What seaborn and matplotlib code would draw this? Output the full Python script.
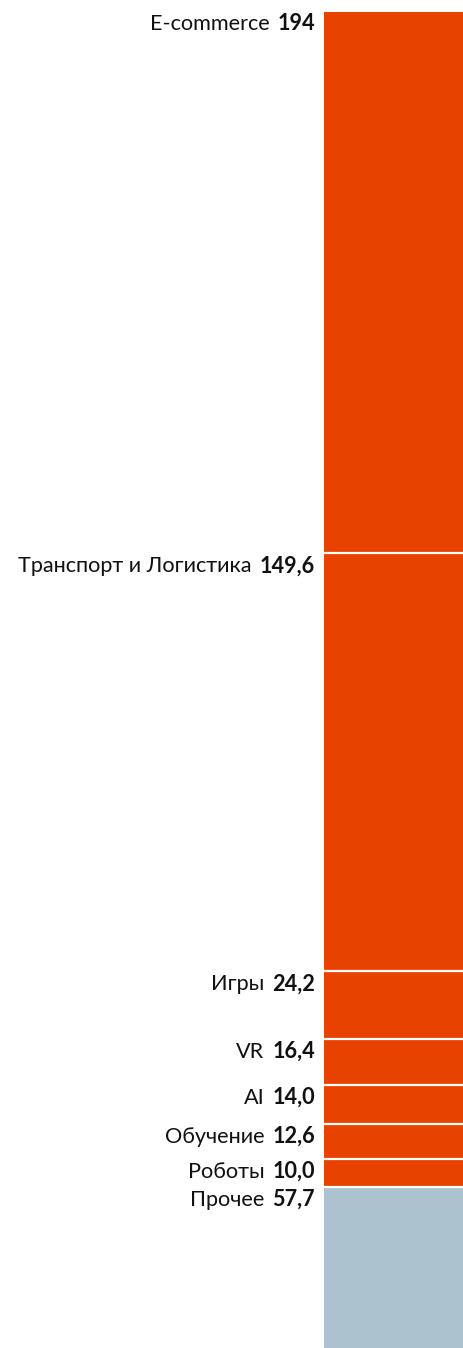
import matplotlib
matplotlib.use("Agg")
import matplotlib.pyplot as plt
import seaborn as sns
import numpy as np

# Market segments, stacked top to bottom
categories = ["E-commerce", "Транспорт и Логистика", "Игры", "VR", "AI",
              "Обучение", "Роботы", "Прочее"]
values = [194, 149.6, 24.2, 16.4, 14.0, 12.6, 10.0, 57.7]
value_labels = ["194", "149,6", "24,2", "16,4", "14,0", "12,6", "10,0", "57,7"]
colors = ["#E84200"] * 7 + ["#ADC2CF"]

sns.set_theme(style="white")
plt.rcParams["font.family"] = ["Lato", "DejaVu Sans"]

fig = plt.figure(figsize=(4.64, 13.48), dpi=100)
ax = fig.add_axes([324 / 464, 0, 140 / 464, (1348 - 11.5) / 1348])

bottoms = np.concatenate([[0], np.cumsum(values)[:-1]])
total = float(np.sum(values))

for cat, val, bot, col in zip(categories, values, bottoms, colors):
    sns.barplot(x=[0], y=[val], bottom=bot, color=col, width=1.0,
                linewidth=0, ax=ax, saturation=1)

# white separators between stacked segments
for bot in bottoms[1:]:
    ax.axhline(bot, color="white", linewidth=1.6)

ax.set_xlim(-0.5, 0.5)
ax.set_ylim(total, 0)
ax.set_axis_off()

fs = 15.6
for cat, lab, bot in zip(categories, value_labels, bottoms):
    vt = ax.annotate(lab, xy=(0, bot), xycoords=("axes fraction", "data"),
                     xytext=(-9, -2), textcoords="offset pixels",
                     ha="right", va="top", fontsize=fs, fontweight="bold",
                     color="#111111")
    ax.annotate(cat, xy=(0, 0), xycoords=vt, xytext=(-8, 0),
                textcoords="offset pixels", ha="right", va="bottom",
                fontsize=fs, color="#111111")

fig.savefig("out.png", dpi=100)
